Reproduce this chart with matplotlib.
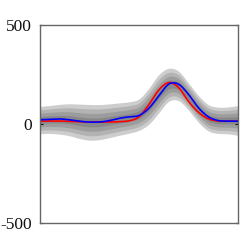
import numpy as np
import matplotlib
matplotlib.use("Agg")
import matplotlib.pyplot as plt

x = np.linspace(0, 1, 21)
red = [13, 14, 14, 12, 10, 9, 8, 9, 10, 13, 30, 95, 175, 215, 188, 110, 55, 22, 13, 13, 13]
blue = [20, 22, 25, 20, 12, 8, 8, 15, 28, 35, 38, 75, 140, 207, 205, 150, 78, 32, 14, 13, 13]
upper = [87, 92, 98, 101, 99, 97, 96, 100, 105, 110, 120, 178, 252, 285, 270, 205, 140, 92, 82, 84, 92]
lower = [-50, -48, -52, -60, -75, -84, -81, -70, -58, -48, -35, -5, 55, 120, 122, 70, 5, -40, -50, -50, -59]
band_fracs = [1.0, 0.75, 0.5, 0.25]
band_colors = ["#cdcdcd", "#b3b3b3", "#9c9c9c", "#888888"]
yticks = [-500, 0, 500]

xf = np.linspace(0, 1, 201)
def smooth(v):
    y = np.interp(xf, x, v)
    k = 9
    pad = np.pad(y, k // 2, mode="edge")
    return np.convolve(pad, np.ones(k) / k, mode="valid")

up = np.array(upper, float)
lo = np.array(lower, float)
center = (up + lo) / 2
hw = (up - lo) / 2

plt.rcParams["font.family"] = ["Liberation Serif", "DejaVu Serif"]
fig = plt.figure(figsize=(2.48, 2.48), dpi=100)
ax = fig.add_axes([0.161, 0.101, 0.799, 0.8])

for f, c in zip(band_fracs, band_colors):
    ax.fill_between(xf, smooth(center + f * hw), smooth(center - f * hw), color=c, lw=0)

ax.plot(xf, smooth(red), color="#ff0000", lw=1.2)
ax.plot(xf, smooth(blue), color="#0000ff", lw=1.2)

ax.set_xlim(0, 1)
ax.set_ylim(-500, 500)
ax.set_xticks([])
ax.set_yticks(yticks)
ax.set_yticklabels([str(t) for t in yticks])
ax.tick_params(axis="y", direction="in", length=2.5, width=0.8, left=True, right=True,
               labelsize=12.5, pad=6, colors="#111111")
for s in ax.spines.values():
    s.set_color("#666666")
    s.set_linewidth(1.0)

fig.savefig("out.png", dpi=100)
